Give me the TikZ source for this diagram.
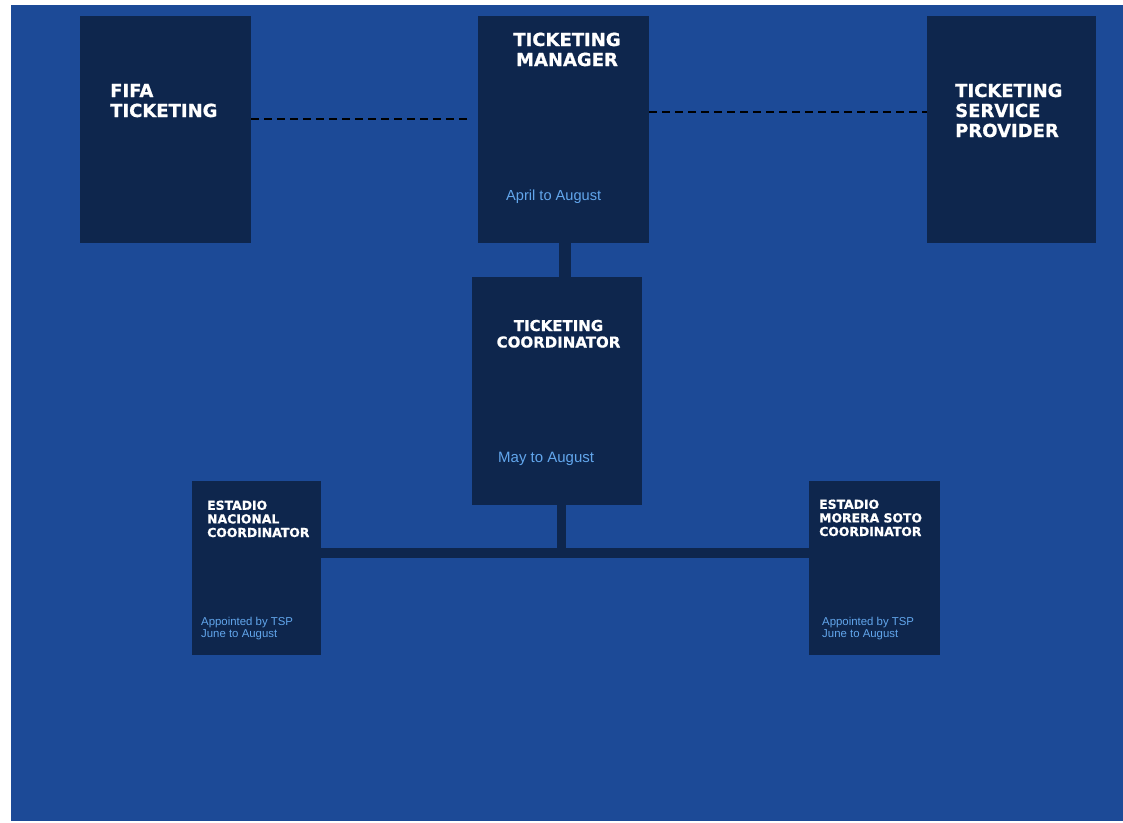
\documentclass[tikz,border=0pt]{standalone}
\usepackage{fontspec}
\setmainfont{Liberation Sans}
\newfontfamily\hdfont{DejaVu Sans}[BoldFeatures={FakeBold=0.8}]
\definecolor{bgblue}{HTML}{1C4A97}
\definecolor{navy}{HTML}{0E264D}
\definecolor{lblue}{HTML}{62A6EC}
\begin{document}
\begin{tikzpicture}[x=1pt,y=-1pt,
  box/.style={fill=navy,draw=none,inner sep=0pt,outer sep=0pt,anchor=north west},
  head/.style={text=white,inner sep=0pt,font=\hdfont\bfseries\fontsize{18}{20}\selectfont},
  headm/.style={text=white,inner sep=0pt,font=\hdfont\bfseries\fontsize{15}{16.5}\selectfont},
  heads/.style={text=white,inner sep=0pt,font=\hdfont\bfseries\fontsize{12.4}{13.6}\selectfont},
  sub/.style={text=lblue,inner sep=0pt,font=\fontsize{11.4}{12}\selectfont},
  subl/.style={text=lblue,inner sep=0pt},
  dashline/.style={black,line width=2.2pt,dash pattern=on 8pt off 5pt},
  conn/.style={navy}]
\fill[white] (0,0) rectangle (1123,822);
\useasboundingbox (0,0) rectangle (1123,822);
\fill[bgblue] (11,5) rectangle (1123,821);
% boxes
\node[box,minimum width=171pt,minimum height=227pt] (fifa) at (80,16) {};
\node[box,minimum width=171pt,minimum height=227pt] (mgr) at (478,16) {};
\node[box,minimum width=169pt,minimum height=227pt] (tsp) at (927,16) {};
\node[box,minimum width=170pt,minimum height=228pt] (coord) at (472,277) {};
\node[box,minimum width=129pt,minimum height=174pt] (nac) at (192,481) {};
\node[box,minimum width=131pt,minimum height=174pt] (mor) at (809,481) {};
% connectors
\coordinate (d1) at (470,119);
\coordinate (d2) at (927,112);
\draw[dashline] (fifa.east |- d1) -- (d1);
\draw[dashline] (mgr.east |- d2) -- (tsp.west |- d2);
\coordinate (j0) at (564.5,0);
\draw[conn,line width=12pt] (mgr.south -| j0) -- (coord.north -| j0);
\coordinate (j) at (561.5,553);
\draw[conn,line width=9pt] (coord.south -| j) -- (j);
\draw[conn,line width=10pt] (nac.east |- j) -- (mor.west |- j);
% texts (anchor base = baseline of last line)
\node[head,anchor=base west,align=left] (tfifa) at (110,117) {FIFA\\TICKETING};
\node[head,anchor=base,align=center] (tmgr) at (567,66) {TICKETING\\MANAGER};
\node[head,anchor=base west,align=left] (ttsp) at (955,137) {TICKETING\\SERVICE\\PROVIDER};
\node[headm,anchor=base,align=center] (tcoord) at (558.5,347.5) {TICKETING\\COORDINATOR};
\node[heads,anchor=base west,align=left] (tnac) at (207,537) {ESTADIO\\NACIONAL\\COORDINATOR};
\node[heads,anchor=base west,align=left] (tmor) at (819,536) {ESTADIO\\MORERA SOTO\\COORDINATOR};
\node[subl,anchor=base west,font=\fontsize{14.6}{16}\selectfont] (smgr) at (506,200) {April to August};
\node[subl,anchor=base west,font=\fontsize{15}{17}\selectfont] (scoord) at (498,462) {May to August};
\node[sub,anchor=base west,align=left] (snac) at (201,637) {Appointed by TSP\\June to August};
\node[sub,anchor=base west,align=left] (smor) at (822,637) {Appointed by TSP\\June to August};
\end{tikzpicture}
\end{document}
